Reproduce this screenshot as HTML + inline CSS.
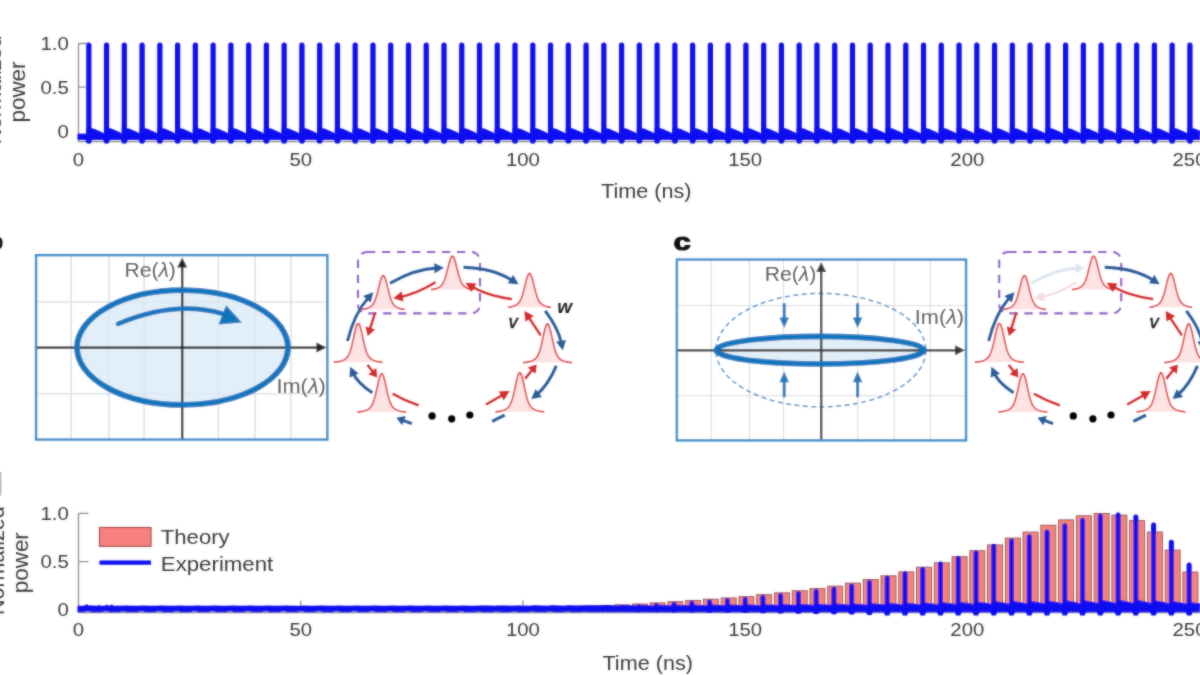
<!DOCTYPE html>
<html><head><meta charset="utf-8"><style>
html,body{margin:0;padding:0;background:#fff;width:1200px;height:675px;overflow:hidden}
svg{display:block;font-family:"Liberation Sans", sans-serif}
</style></head><body>
<svg width="1200" height="675" viewBox="0 0 1200 675">
<defs><filter id="soft" x="-1%" y="-1%" width="102%" height="102%"><feGaussianBlur in="SourceGraphic" stdDeviation="1" result="bl"/><feComposite in="SourceGraphic" in2="bl" operator="arithmetic" k1="0" k2="0.5" k3="0.5" k4="0"/></filter></defs>
<rect width="1200" height="675" fill="#fff"/>
<g filter="url(#soft)">
<g id="top">
<path d="M78.5 43.5V141.5H1200" fill="none" stroke="#8e8e8e" stroke-width="1.3"/>
<path d="M78.5 43.5h10M78.5 87.2h10" stroke="#8e8e8e" stroke-width="1.3"/>
<path d="M300.7 141.5v-12" stroke="#a0a0a0" stroke-width="1.6"/>
<path d="M522.9 141.5v-12" stroke="#a0a0a0" stroke-width="1.6"/>
<path d="M745.1 141.5v-12" stroke="#a0a0a0" stroke-width="1.6"/>
<path d="M967.3 141.5v-12" stroke="#a0a0a0" stroke-width="1.6"/>
<path d="M1189.5 141.5v-12" stroke="#a0a0a0" stroke-width="1.6"/>
<text transform="translate(68.8 50) scale(1.13 1)" font-size="18" text-anchor="end" fill="#3a3a3a">1.0</text>
<text transform="translate(68.8 93.7) scale(1.13 1)" font-size="18" text-anchor="end" fill="#3a3a3a">0.5</text>
<text transform="translate(68.8 137.5) scale(1.13 1)" font-size="18" text-anchor="end" fill="#3a3a3a">0</text>
<text transform="translate(78.5 165.5) scale(1.13 1)" font-size="18" text-anchor="middle" fill="#3a3a3a">0</text>
<text transform="translate(300.7 165.5) scale(1.13 1)" font-size="18" text-anchor="middle" fill="#3a3a3a">50</text>
<text transform="translate(522.9 165.5) scale(1.13 1)" font-size="18" text-anchor="middle" fill="#3a3a3a">100</text>
<text transform="translate(745.1 165.5) scale(1.13 1)" font-size="18" text-anchor="middle" fill="#3a3a3a">150</text>
<text transform="translate(967.3 165.5) scale(1.13 1)" font-size="18" text-anchor="middle" fill="#3a3a3a">200</text>
<text transform="translate(1189.5 165.5) scale(1.13 1)" font-size="18" text-anchor="middle" fill="#3a3a3a">250</text>
<text x="646.3" y="198" font-size="21" text-anchor="middle" fill="#3a3a3a" textLength="90.5" lengthAdjust="spacingAndGlyphs" >Time (ns)</text>
<text transform="translate(25.2 92) rotate(-90)" font-size="21.5" text-anchor="middle" fill="#3a3a3a" textLength="61" lengthAdjust="spacingAndGlyphs">power</text>
<text transform="translate(1 90) rotate(-90)" font-size="21.5" text-anchor="middle" fill="#3a3a3a">Normalized</text>
<path d="M77.5 133.5 L86.2 133.8 L86.2 128.5 L91.8 128.2 L94.8 129 L97.3 130.3 L99.8 131.3 L102.3 132.6 L104 133.5 L103.96 133.8 L103.96 128.5 L109.56 128.2 L112.56 129 L115.06 130.3 L117.56 131.3 L120.06 132.6 L121.76 133.5 L121.72 133.8 L121.72 128.5 L127.32 128.2 L130.32 129 L132.82 130.3 L135.32 131.3 L137.82 132.6 L139.52 133.5 L139.48 133.8 L139.48 128.5 L145.08 128.2 L148.08 129 L150.58 130.3 L153.08 131.3 L155.58 132.6 L157.28 133.5 L157.24 133.8 L157.24 128.5 L162.84 128.2 L165.84 129 L168.34 130.3 L170.84 131.3 L173.34 132.6 L175.04 133.5 L175 133.8 L175 128.5 L180.6 128.2 L183.6 129 L186.1 130.3 L188.6 131.3 L191.1 132.6 L192.8 133.5 L192.76 133.8 L192.76 128.5 L198.36 128.2 L201.36 129 L203.86 130.3 L206.36 131.3 L208.86 132.6 L210.56 133.5 L210.52 133.8 L210.52 128.5 L216.12 128.2 L219.12 129 L221.62 130.3 L224.12 131.3 L226.62 132.6 L228.32 133.5 L228.28 133.8 L228.28 128.5 L233.88 128.2 L236.88 129 L239.38 130.3 L241.88 131.3 L244.38 132.6 L246.08 133.5 L246.04 133.8 L246.04 128.5 L251.64 128.2 L254.64 129 L257.14 130.3 L259.64 131.3 L262.14 132.6 L263.84 133.5 L263.8 133.8 L263.8 128.5 L269.4 128.2 L272.4 129 L274.9 130.3 L277.4 131.3 L279.9 132.6 L281.6 133.5 L281.56 133.8 L281.56 128.5 L287.16 128.2 L290.16 129 L292.66 130.3 L295.16 131.3 L297.66 132.6 L299.36 133.5 L299.32 133.8 L299.32 128.5 L304.92 128.2 L307.92 129 L310.42 130.3 L312.92 131.3 L315.42 132.6 L317.12 133.5 L317.08 133.8 L317.08 128.5 L322.68 128.2 L325.68 129 L328.18 130.3 L330.68 131.3 L333.18 132.6 L334.88 133.5 L334.84 133.8 L334.84 128.5 L340.44 128.2 L343.44 129 L345.94 130.3 L348.44 131.3 L350.94 132.6 L352.64 133.5 L352.6 133.8 L352.6 128.5 L358.2 128.2 L361.2 129 L363.7 130.3 L366.2 131.3 L368.7 132.6 L370.4 133.5 L370.36 133.8 L370.36 128.5 L375.96 128.2 L378.96 129 L381.46 130.3 L383.96 131.3 L386.46 132.6 L388.16 133.5 L388.12 133.8 L388.12 128.5 L393.72 128.2 L396.72 129 L399.22 130.3 L401.72 131.3 L404.22 132.6 L405.92 133.5 L405.88 133.8 L405.88 128.5 L411.48 128.2 L414.48 129 L416.98 130.3 L419.48 131.3 L421.98 132.6 L423.68 133.5 L423.64 133.8 L423.64 128.5 L429.24 128.2 L432.24 129 L434.74 130.3 L437.24 131.3 L439.74 132.6 L441.44 133.5 L441.4 133.8 L441.4 128.5 L447 128.2 L450 129 L452.5 130.3 L455 131.3 L457.5 132.6 L459.2 133.5 L459.16 133.8 L459.16 128.5 L464.76 128.2 L467.76 129 L470.26 130.3 L472.76 131.3 L475.26 132.6 L476.96 133.5 L476.92 133.8 L476.92 128.5 L482.52 128.2 L485.52 129 L488.02 130.3 L490.52 131.3 L493.02 132.6 L494.72 133.5 L494.68 133.8 L494.68 128.5 L500.28 128.2 L503.28 129 L505.78 130.3 L508.28 131.3 L510.78 132.6 L512.48 133.5 L512.44 133.8 L512.44 128.5 L518.04 128.2 L521.04 129 L523.54 130.3 L526.04 131.3 L528.54 132.6 L530.24 133.5 L530.2 133.8 L530.2 128.5 L535.8 128.2 L538.8 129 L541.3 130.3 L543.8 131.3 L546.3 132.6 L548 133.5 L547.96 133.8 L547.96 128.5 L553.56 128.2 L556.56 129 L559.06 130.3 L561.56 131.3 L564.06 132.6 L565.76 133.5 L565.72 133.8 L565.72 128.5 L571.32 128.2 L574.32 129 L576.82 130.3 L579.32 131.3 L581.82 132.6 L583.52 133.5 L583.48 133.8 L583.48 128.5 L589.08 128.2 L592.08 129 L594.58 130.3 L597.08 131.3 L599.58 132.6 L601.28 133.5 L601.24 133.8 L601.24 128.5 L606.84 128.2 L609.84 129 L612.34 130.3 L614.84 131.3 L617.34 132.6 L619.04 133.5 L619 133.8 L619 128.5 L624.6 128.2 L627.6 129 L630.1 130.3 L632.6 131.3 L635.1 132.6 L636.8 133.5 L636.76 133.8 L636.76 128.5 L642.36 128.2 L645.36 129 L647.86 130.3 L650.36 131.3 L652.86 132.6 L654.56 133.5 L654.52 133.8 L654.52 128.5 L660.12 128.2 L663.12 129 L665.62 130.3 L668.12 131.3 L670.62 132.6 L672.32 133.5 L672.28 133.8 L672.28 128.5 L677.88 128.2 L680.88 129 L683.38 130.3 L685.88 131.3 L688.38 132.6 L690.08 133.5 L690.04 133.8 L690.04 128.5 L695.64 128.2 L698.64 129 L701.14 130.3 L703.64 131.3 L706.14 132.6 L707.84 133.5 L707.8 133.8 L707.8 128.5 L713.4 128.2 L716.4 129 L718.9 130.3 L721.4 131.3 L723.9 132.6 L725.6 133.5 L725.56 133.8 L725.56 128.5 L731.16 128.2 L734.16 129 L736.66 130.3 L739.16 131.3 L741.66 132.6 L743.36 133.5 L743.32 133.8 L743.32 128.5 L748.92 128.2 L751.92 129 L754.42 130.3 L756.92 131.3 L759.42 132.6 L761.12 133.5 L761.08 133.8 L761.08 128.5 L766.68 128.2 L769.68 129 L772.18 130.3 L774.68 131.3 L777.18 132.6 L778.88 133.5 L778.84 133.8 L778.84 128.5 L784.44 128.2 L787.44 129 L789.94 130.3 L792.44 131.3 L794.94 132.6 L796.64 133.5 L796.6 133.8 L796.6 128.5 L802.2 128.2 L805.2 129 L807.7 130.3 L810.2 131.3 L812.7 132.6 L814.4 133.5 L814.36 133.8 L814.36 128.5 L819.96 128.2 L822.96 129 L825.46 130.3 L827.96 131.3 L830.46 132.6 L832.16 133.5 L832.12 133.8 L832.12 128.5 L837.72 128.2 L840.72 129 L843.22 130.3 L845.72 131.3 L848.22 132.6 L849.92 133.5 L849.88 133.8 L849.88 128.5 L855.48 128.2 L858.48 129 L860.98 130.3 L863.48 131.3 L865.98 132.6 L867.68 133.5 L867.64 133.8 L867.64 128.5 L873.24 128.2 L876.24 129 L878.74 130.3 L881.24 131.3 L883.74 132.6 L885.44 133.5 L885.4 133.8 L885.4 128.5 L891 128.2 L894 129 L896.5 130.3 L899 131.3 L901.5 132.6 L903.2 133.5 L903.16 133.8 L903.16 128.5 L908.76 128.2 L911.76 129 L914.26 130.3 L916.76 131.3 L919.26 132.6 L920.96 133.5 L920.92 133.8 L920.92 128.5 L926.52 128.2 L929.52 129 L932.02 130.3 L934.52 131.3 L937.02 132.6 L938.72 133.5 L938.68 133.8 L938.68 128.5 L944.28 128.2 L947.28 129 L949.78 130.3 L952.28 131.3 L954.78 132.6 L956.48 133.5 L956.44 133.8 L956.44 128.5 L962.04 128.2 L965.04 129 L967.54 130.3 L970.04 131.3 L972.54 132.6 L974.24 133.5 L974.2 133.8 L974.2 128.5 L979.8 128.2 L982.8 129 L985.3 130.3 L987.8 131.3 L990.3 132.6 L992 133.5 L991.96 133.8 L991.96 128.5 L997.56 128.2 L1000.56 129 L1003.06 130.3 L1005.56 131.3 L1008.06 132.6 L1009.76 133.5 L1009.72 133.8 L1009.72 128.5 L1015.32 128.2 L1018.32 129 L1020.82 130.3 L1023.32 131.3 L1025.82 132.6 L1027.52 133.5 L1027.48 133.8 L1027.48 128.5 L1033.08 128.2 L1036.08 129 L1038.58 130.3 L1041.08 131.3 L1043.58 132.6 L1045.28 133.5 L1045.24 133.8 L1045.24 128.5 L1050.84 128.2 L1053.84 129 L1056.34 130.3 L1058.84 131.3 L1061.34 132.6 L1063.04 133.5 L1063 133.8 L1063 128.5 L1068.6 128.2 L1071.6 129 L1074.1 130.3 L1076.6 131.3 L1079.1 132.6 L1080.8 133.5 L1080.76 133.8 L1080.76 128.5 L1086.36 128.2 L1089.36 129 L1091.86 130.3 L1094.36 131.3 L1096.86 132.6 L1098.56 133.5 L1098.52 133.8 L1098.52 128.5 L1104.12 128.2 L1107.12 129 L1109.62 130.3 L1112.12 131.3 L1114.62 132.6 L1116.32 133.5 L1116.28 133.8 L1116.28 128.5 L1121.88 128.2 L1124.88 129 L1127.38 130.3 L1129.88 131.3 L1132.38 132.6 L1134.08 133.5 L1134.04 133.8 L1134.04 128.5 L1139.64 128.2 L1142.64 129 L1145.14 130.3 L1147.64 131.3 L1150.14 132.6 L1151.84 133.5 L1151.8 133.8 L1151.8 128.5 L1157.4 128.2 L1160.4 129 L1162.9 130.3 L1165.4 131.3 L1167.9 132.6 L1169.6 133.5 L1169.56 133.8 L1169.56 128.5 L1175.16 128.2 L1178.16 129 L1180.66 130.3 L1183.16 131.3 L1185.66 132.6 L1187.36 133.5 L1187.32 133.8 L1187.32 128.5 L1192.92 128.2 L1195.92 129 L1198.42 130.3 L1200.92 131.3 L1203.42 132.6 L1205.12 133.5 L1200 133.5 L1200 140 L1193.42 140 L1191.92 143.6 L1187.92 143.6 L1186.42 140 L1175.66 140 L1174.16 143.6 L1170.16 143.6 L1168.66 140 L1157.9 140 L1156.4 143.6 L1152.4 143.6 L1150.9 140 L1140.14 140 L1138.64 143.6 L1134.64 143.6 L1133.14 140 L1122.38 140 L1120.88 143.6 L1116.88 143.6 L1115.38 140 L1104.62 140 L1103.12 143.6 L1099.12 143.6 L1097.62 140 L1086.86 140 L1085.36 143.6 L1081.36 143.6 L1079.86 140 L1069.1 140 L1067.6 143.6 L1063.6 143.6 L1062.1 140 L1051.34 140 L1049.84 143.6 L1045.84 143.6 L1044.34 140 L1033.58 140 L1032.08 143.6 L1028.08 143.6 L1026.58 140 L1015.82 140 L1014.32 143.6 L1010.32 143.6 L1008.82 140 L998.06 140 L996.56 143.6 L992.56 143.6 L991.06 140 L980.3 140 L978.8 143.6 L974.8 143.6 L973.3 140 L962.54 140 L961.04 143.6 L957.04 143.6 L955.54 140 L944.78 140 L943.28 143.6 L939.28 143.6 L937.78 140 L927.02 140 L925.52 143.6 L921.52 143.6 L920.02 140 L909.26 140 L907.76 143.6 L903.76 143.6 L902.26 140 L891.5 140 L890 143.6 L886 143.6 L884.5 140 L873.74 140 L872.24 143.6 L868.24 143.6 L866.74 140 L855.98 140 L854.48 143.6 L850.48 143.6 L848.98 140 L838.22 140 L836.72 143.6 L832.72 143.6 L831.22 140 L820.46 140 L818.96 143.6 L814.96 143.6 L813.46 140 L802.7 140 L801.2 143.6 L797.2 143.6 L795.7 140 L784.94 140 L783.44 143.6 L779.44 143.6 L777.94 140 L767.18 140 L765.68 143.6 L761.68 143.6 L760.18 140 L749.42 140 L747.92 143.6 L743.92 143.6 L742.42 140 L731.66 140 L730.16 143.6 L726.16 143.6 L724.66 140 L713.9 140 L712.4 143.6 L708.4 143.6 L706.9 140 L696.14 140 L694.64 143.6 L690.64 143.6 L689.14 140 L678.38 140 L676.88 143.6 L672.88 143.6 L671.38 140 L660.62 140 L659.12 143.6 L655.12 143.6 L653.62 140 L642.86 140 L641.36 143.6 L637.36 143.6 L635.86 140 L625.1 140 L623.6 143.6 L619.6 143.6 L618.1 140 L607.34 140 L605.84 143.6 L601.84 143.6 L600.34 140 L589.58 140 L588.08 143.6 L584.08 143.6 L582.58 140 L571.82 140 L570.32 143.6 L566.32 143.6 L564.82 140 L554.06 140 L552.56 143.6 L548.56 143.6 L547.06 140 L536.3 140 L534.8 143.6 L530.8 143.6 L529.3 140 L518.54 140 L517.04 143.6 L513.04 143.6 L511.54 140 L500.78 140 L499.28 143.6 L495.28 143.6 L493.78 140 L483.02 140 L481.52 143.6 L477.52 143.6 L476.02 140 L465.26 140 L463.76 143.6 L459.76 143.6 L458.26 140 L447.5 140 L446 143.6 L442 143.6 L440.5 140 L429.74 140 L428.24 143.6 L424.24 143.6 L422.74 140 L411.98 140 L410.48 143.6 L406.48 143.6 L404.98 140 L394.22 140 L392.72 143.6 L388.72 143.6 L387.22 140 L376.46 140 L374.96 143.6 L370.96 143.6 L369.46 140 L358.7 140 L357.2 143.6 L353.2 143.6 L351.7 140 L340.94 140 L339.44 143.6 L335.44 143.6 L333.94 140 L323.18 140 L321.68 143.6 L317.68 143.6 L316.18 140 L305.42 140 L303.92 143.6 L299.92 143.6 L298.42 140 L287.66 140 L286.16 143.6 L282.16 143.6 L280.66 140 L269.9 140 L268.4 143.6 L264.4 143.6 L262.9 140 L252.14 140 L250.64 143.6 L246.64 143.6 L245.14 140 L234.38 140 L232.88 143.6 L228.88 143.6 L227.38 140 L216.62 140 L215.12 143.6 L211.12 143.6 L209.62 140 L198.86 140 L197.36 143.6 L193.36 143.6 L191.86 140 L181.1 140 L179.6 143.6 L175.6 143.6 L174.1 140 L163.34 140 L161.84 143.6 L157.84 143.6 L156.34 140 L145.58 140 L144.08 143.6 L140.08 143.6 L138.58 140 L127.82 140 L126.32 143.6 L122.32 143.6 L120.82 140 L110.06 140 L108.56 143.6 L104.56 143.6 L103.06 140 L92.3 140 L90.8 143.6 L86.8 143.6 L85.3 140 L77.5 140Z" fill="#0a0af2"/>
<path d="M88.8 45.2V136M106.56 45.2V136M124.32 45.2V136M142.08 45.2V136M159.84 45.2V136M177.6 45.2V136M195.36 45.2V136M213.12 45.2V136M230.88 45.2V136M248.64 45.2V136M266.4 45.2V136M284.16 45.2V136M301.92 45.2V136M319.68 45.2V136M337.44 45.2V136M355.2 45.2V136M372.96 45.2V136M390.72 45.2V136M408.48 45.2V136M426.24 45.2V136M444 45.2V136M461.76 45.2V136M479.52 45.2V136M497.28 45.2V136M515.04 45.2V136M532.8 45.2V136M550.56 45.2V136M568.32 45.2V136M586.08 45.2V136M603.84 45.2V136M621.6 45.2V136M639.36 45.2V136M657.12 45.2V136M674.88 45.2V136M692.64 45.2V136M710.4 45.2V136M728.16 45.2V136M745.92 45.2V136M763.68 45.2V136M781.44 45.2V136M799.2 45.2V136M816.96 45.2V136M834.72 45.2V136M852.48 45.2V136M870.24 45.2V136M888 45.2V136M905.76 45.2V136M923.52 45.2V136M941.28 45.2V136M959.04 45.2V136M976.8 45.2V136M994.56 45.2V136M1012.32 45.2V136M1030.08 45.2V136M1047.84 45.2V136M1065.6 45.2V136M1083.36 45.2V136M1101.12 45.2V136M1118.88 45.2V136M1136.64 45.2V136M1154.4 45.2V136M1172.16 45.2V136M1189.92 45.2V136" stroke="#0a0af2" stroke-width="5.2" stroke-linecap="round" fill="none"/>
</g>
<g id="bottom">
<path d="M78.5 513.4V612.5H1200" fill="none" stroke="#8e8e8e" stroke-width="1.3"/>
<path d="M78.5 513.4h10M78.5 561.7h10" stroke="#8e8e8e" stroke-width="1.3"/>
<path d="M300.7 612.5v-12" stroke="#a0a0a0" stroke-width="1.6"/>
<path d="M522.9 612.5v-12" stroke="#a0a0a0" stroke-width="1.6"/>
<path d="M745.1 612.5v-12" stroke="#a0a0a0" stroke-width="1.6"/>
<path d="M967.3 612.5v-12" stroke="#a0a0a0" stroke-width="1.6"/>
<path d="M1189.5 612.5v-12" stroke="#a0a0a0" stroke-width="1.6"/>
<text transform="translate(68.8 519.9) scale(1.13 1)" font-size="18" text-anchor="end" fill="#3a3a3a">1.0</text>
<text transform="translate(68.8 568.2) scale(1.13 1)" font-size="18" text-anchor="end" fill="#3a3a3a">0.5</text>
<text transform="translate(68.8 616.3) scale(1.13 1)" font-size="18" text-anchor="end" fill="#3a3a3a">0</text>
<text transform="translate(78.5 636) scale(1.13 1)" font-size="18" text-anchor="middle" fill="#3a3a3a">0</text>
<text transform="translate(300.7 636) scale(1.13 1)" font-size="18" text-anchor="middle" fill="#3a3a3a">50</text>
<text transform="translate(522.9 636) scale(1.13 1)" font-size="18" text-anchor="middle" fill="#3a3a3a">100</text>
<text transform="translate(745.1 636) scale(1.13 1)" font-size="18" text-anchor="middle" fill="#3a3a3a">150</text>
<text transform="translate(967.3 636) scale(1.13 1)" font-size="18" text-anchor="middle" fill="#3a3a3a">200</text>
<text transform="translate(1189.5 636) scale(1.13 1)" font-size="18" text-anchor="middle" fill="#3a3a3a">250</text>
<text x="647.7" y="669.5" font-size="21" text-anchor="middle" fill="#3a3a3a" textLength="90.5" lengthAdjust="spacingAndGlyphs" >Time (ns)</text>
<text transform="translate(27.5 562.7) rotate(-90)" font-size="21.5" text-anchor="middle" fill="#3a3a3a" textLength="61" lengthAdjust="spacingAndGlyphs">power</text>
<text transform="translate(4 560.7) rotate(-90)" font-size="21.5" text-anchor="middle" fill="#3a3a3a">Normalized</text>
<rect x="0" y="472" width="1.3" height="23.5" fill="#a8a8a8"/>
<g fill="#f3827c" stroke="#8c5656" stroke-width="0.9"><rect x="383.72" y="609.11" width="15" height="1.69"/><rect x="401.48" y="609" width="15" height="1.8"/><rect x="419.24" y="608.86" width="15" height="1.94"/><rect x="437" y="608.71" width="15" height="2.09"/><rect x="454.76" y="608.53" width="15" height="2.27"/><rect x="472.52" y="608.32" width="15" height="2.48"/><rect x="490.28" y="608.08" width="15" height="2.72"/><rect x="508.04" y="607.8" width="15" height="3"/><rect x="525.8" y="607.47" width="15" height="3.33"/><rect x="543.56" y="607.09" width="15" height="3.71"/><rect x="561.32" y="606.65" width="15" height="4.15"/><rect x="579.08" y="606.13" width="15" height="4.67"/><rect x="596.84" y="605.53" width="15" height="5.27"/><rect x="614.6" y="604.83" width="15" height="5.97"/><rect x="632.36" y="604.01" width="15" height="6.79"/><rect x="650.12" y="602.91" width="15" height="7.89"/><rect x="667.88" y="601.67" width="15" height="9.13"/><rect x="685.64" y="600.44" width="15" height="10.36"/><rect x="703.4" y="599.2" width="15" height="11.6"/><rect x="721.16" y="597.95" width="15" height="12.85"/><rect x="738.92" y="596.64" width="15" height="14.16"/><rect x="756.68" y="594.63" width="15" height="16.17"/><rect x="774.44" y="592.87" width="15" height="17.93"/><rect x="792.2" y="590.75" width="15" height="20.05"/><rect x="809.96" y="588.61" width="15" height="22.19"/><rect x="827.72" y="586.17" width="15" height="24.63"/><rect x="845.48" y="583.13" width="15" height="27.67"/><rect x="863.24" y="579.47" width="15" height="31.33"/><rect x="881" y="575.8" width="15" height="35"/><rect x="898.76" y="571.89" width="15" height="38.91"/><rect x="916.52" y="567.2" width="15" height="43.6"/><rect x="934.28" y="562.84" width="15" height="47.96"/><rect x="952.04" y="556.69" width="15" height="54.11"/><rect x="969.8" y="550.73" width="15" height="60.07"/><rect x="987.56" y="544.89" width="15" height="65.91"/><rect x="1005.32" y="538.1" width="15" height="72.7"/><rect x="1023.08" y="532.07" width="15" height="78.73"/><rect x="1040.84" y="525.23" width="15" height="85.57"/><rect x="1058.6" y="519.9" width="15" height="90.9"/><rect x="1076.36" y="515.76" width="15" height="95.04"/><rect x="1094.12" y="513.48" width="15" height="97.32"/><rect x="1111.88" y="515.13" width="15" height="95.67"/><rect x="1129.64" y="520.56" width="15" height="90.24"/><rect x="1147.4" y="532" width="15" height="78.8"/><rect x="1165.16" y="550.09" width="15" height="60.71"/><rect x="1182.92" y="572.01" width="15" height="38.79"/></g>
<path d="M77.5 605.8 L85.6 605.8 L90.5 605.6 L96 605.7 L103.2 605.8 L103.36 605.8 L108.26 605.6 L113.76 605.7 L120.96 605.8 L121.12 605.8 L126.02 605.6 L131.52 605.7 L138.72 605.8 L138.88 605.8 L143.78 605.6 L149.28 605.7 L156.48 605.8 L156.64 605.8 L161.54 605.6 L167.04 605.7 L174.24 605.8 L174.4 605.8 L179.3 605.6 L184.8 605.7 L192 605.8 L192.16 605.8 L197.06 605.6 L202.56 605.7 L209.76 605.8 L209.92 605.8 L214.82 605.6 L220.32 605.7 L227.52 605.8 L227.68 605.8 L232.58 605.6 L238.08 605.7 L245.28 605.8 L245.44 605.8 L250.34 605.6 L255.84 605.7 L263.04 605.8 L263.2 605.8 L268.1 605.6 L273.6 605.7 L280.8 605.8 L280.96 605.8 L285.86 605.6 L291.36 605.7 L298.56 605.8 L298.72 605.8 L303.62 605.6 L309.12 605.7 L316.32 605.8 L316.48 605.8 L321.38 605.6 L326.88 605.7 L334.08 605.8 L334.24 605.8 L339.14 605.6 L344.64 605.7 L351.84 605.8 L352 605.8 L356.9 605.6 L362.4 605.7 L369.6 605.8 L369.76 605.8 L374.66 605.6 L380.16 605.7 L387.36 605.8 L387.52 605.8 L392.42 605.6 L397.92 605.7 L405.12 605.8 L405.28 605.8 L410.18 605.6 L415.68 605.7 L422.88 605.8 L423.04 605.8 L427.94 605.6 L433.44 605.7 L440.64 605.8 L440.8 605.8 L445.7 605.6 L451.2 605.7 L458.4 605.8 L458.56 605.78 L463.46 605.56 L468.96 605.66 L476.16 605.78 L476.32 605.75 L481.22 605.5 L486.72 605.62 L493.92 605.75 L494.08 605.72 L498.98 605.45 L504.48 605.58 L511.68 605.73 L511.84 605.69 L516.74 605.4 L522.24 605.54 L529.44 605.7 L529.6 605.66 L534.5 605.35 L540 605.5 L547.2 605.67 L547.36 605.63 L552.26 605.29 L557.76 605.45 L564.96 605.65 L565.12 605.6 L570.02 605.23 L575.52 605.41 L582.72 605.62 L582.88 605.56 L587.78 605.17 L593.28 605.36 L600.48 605.58 L600.64 605.52 L605.54 605.1 L611.04 605.3 L618.24 605.55 L618.4 605.48 L623.3 605.02 L628.8 605.24 L636 605.51 L636.16 605.44 L641.06 604.94 L646.56 605.17 L653.76 605.47 L653.92 605.38 L658.82 604.83 L664.32 605.09 L671.52 605.42 L671.68 605.31 L676.58 604.72 L682.08 604.99 L689.28 605.36 L689.44 605.26 L694.34 604.61 L699.84 604.91 L707.04 605.3 L707.2 605.2 L712.1 604.51 L717.6 604.82 L724.8 605.25 L724.96 605.14 L729.86 604.41 L735.36 604.74 L742.56 605.2 L742.72 605.09 L747.62 604.31 L753.12 604.67 L760.32 605.15 L760.48 605.01 L765.38 604.16 L770.88 604.55 L778.08 605.08 L778.24 604.94 L783.14 604.03 L788.64 604.45 L795.84 605.02 L796 604.86 L800.9 603.89 L806.4 604.33 L813.6 604.94 L813.76 604.78 L818.66 603.75 L824.16 604.22 L831.36 604.87 L831.52 604.7 L836.42 603.59 L841.92 604.09 L849.12 604.8 L849.28 604.59 L854.18 603.41 L859.68 603.95 L866.88 604.7 L867.04 604.47 L871.94 603.19 L877.44 603.77 L884.64 604.6 L884.8 604.34 L889.7 602.95 L895.2 603.58 L902.4 604.47 L902.56 604.2 L907.46 602.7 L912.96 603.38 L920.16 604.35 L920.32 604.08 L925.22 602.48 L930.72 603.2 L937.92 604.24 L938.08 603.93 L942.98 602.2 L948.48 602.98 L955.68 604.1 L955.84 603.78 L960.74 601.92 L966.24 602.76 L973.44 603.96 L973.6 603.63 L978.5 601.66 L984 602.55 L991.2 603.83 L991.36 603.46 L996.26 601.35 L1001.76 602.3 L1008.96 603.67 L1009.12 603.33 L1014.02 601.1 L1019.52 602.1 L1026.72 603.55 L1026.88 603.22 L1031.78 600.92 L1037.28 601.95 L1044.48 603.46 L1044.64 603.11 L1049.54 600.71 L1055.04 601.79 L1062.24 603.36 L1062.4 602.96 L1067.3 600.44 L1072.8 601.58 L1080 603.22 L1080.16 602.84 L1085.06 600.22 L1090.56 601.4 L1097.76 603.11 L1097.92 602.75 L1102.82 600.05 L1108.32 601.26 L1115.52 603.03 L1115.68 602.72 L1120.58 600 L1126.08 601.22 L1133.28 603 L1133.44 602.76 L1138.34 600.08 L1143.84 601.28 L1151.04 603.04 L1151.2 602.95 L1156.1 600.42 L1161.6 601.55 L1168.8 603.21 L1168.96 603.36 L1173.86 601.16 L1179.36 602.15 L1186.56 603.58 L1186.72 603.95 L1191.62 602.25 L1197.12 603.02 L1204.32 604.12 L1200 605.8 L1200 612.3 L1192.72 612.3 L1191.12 615.4 L1187.12 615.4 L1185.52 612.3 L1174.96 612.3 L1173.36 615.4 L1169.36 615.4 L1167.76 612.3 L1157.2 612.3 L1155.6 615.4 L1151.6 615.4 L1150 612.3 L1139.44 612.3 L1137.84 615.4 L1133.84 615.4 L1132.24 612.3 L1121.68 612.3 L1120.08 615.4 L1116.08 615.4 L1114.48 612.3 L1103.92 612.3 L1102.32 615.4 L1098.32 615.4 L1096.72 612.3 L1086.16 612.3 L1084.56 615.4 L1080.56 615.4 L1078.96 612.3 L1068.4 612.3 L1066.8 615.4 L1062.8 615.4 L1061.2 612.3 L1050.64 612.3 L1049.04 615.4 L1045.04 615.4 L1043.44 612.3 L1032.88 612.3 L1031.28 615.4 L1027.28 615.4 L1025.68 612.3 L1015.12 612.3 L1013.52 615.4 L1009.52 615.4 L1007.92 612.3 L997.36 612.3 L995.76 615.4 L991.76 615.4 L990.16 612.3 L979.6 612.3 L978 615.4 L974 615.4 L972.4 612.3 L961.84 612.3 L960.24 615.4 L956.24 615.4 L954.64 612.3 L944.08 612.3 L942.48 615.4 L938.48 615.4 L936.88 612.3 L926.32 612.3 L924.72 615.4 L920.72 615.4 L919.12 612.3 L908.56 612.3 L906.96 615.4 L902.96 615.4 L901.36 612.3 L890.8 612.3 L889.2 615.4 L885.2 615.4 L883.6 612.3 L873.04 612.3 L871.44 615.02 L867.44 615.02 L865.84 612.3 L855.28 612.3 L853.68 614.59 L849.68 614.59 L848.08 612.3 L837.52 612.3 L835.92 614.23 L831.92 614.23 L830.32 612.3 L819.76 612.3 L818.16 613.95 L814.16 613.95 L812.56 612.3 L802 612.3 L800.4 613.7 L796.4 613.7 L794.8 612.3 L784.24 612.3 L782.64 613.45 L778.64 613.45 L777.04 612.3 L766.48 612.3 L764.88 613.24 L760.88 613.24 L759.28 612.3 L748.72 612.3 L747.12 613 L743.12 613 L741.52 612.3 L730.96 612.3 L729.36 612.85 L725.36 612.85 L723.76 612.3 L713.2 612.3 L711.6 612.71 L707.6 612.71 L706 612.3 L695.44 612.3 L693.84 612.56 L689.84 612.56 L688.24 612.3 L677.68 612.3 L676.08 612.41 L672.08 612.41 L670.48 612.3 L659.92 612.3 L658.32 612.27 L654.32 612.27 L652.72 612.3 L642.16 612.3 L640.56 612.14 L636.56 612.14 L634.96 612.3 L624.4 612.3 L622.8 612.04 L618.8 612.04 L617.2 612.3 L606.64 612.3 L605.04 611.96 L601.04 611.96 L599.44 612.3 L588.88 612.3 L587.28 611.89 L583.28 611.89 L581.68 612.3 L571.12 612.3 L569.52 611.83 L565.52 611.83 L563.92 612.3 L553.36 612.3 L551.76 611.78 L547.76 611.78 L546.16 612.3 L535.6 612.3 L534 611.74 L530 611.74 L528.4 612.3 L517.84 612.3 L516.24 611.7 L512.24 611.7 L510.64 612.3 L500.08 612.3 L498.48 611.66 L494.48 611.66 L492.88 612.3 L482.32 612.3 L480.72 611.64 L476.72 611.64 L475.12 612.3 L464.56 612.3 L462.96 611.61 L458.96 611.61 L457.36 612.3 L446.8 612.3 L445.2 611.6 L441.2 611.6 L439.6 612.3 L429.04 612.3 L427.44 611.6 L423.44 611.6 L421.84 612.3 L411.28 612.3 L409.68 611.6 L405.68 611.6 L404.08 612.3 L393.52 612.3 L391.92 611.6 L387.92 611.6 L386.32 612.3 L375.76 612.3 L374.16 611.6 L370.16 611.6 L368.56 612.3 L358 612.3 L356.4 611.6 L352.4 611.6 L350.8 612.3 L340.24 612.3 L338.64 611.6 L334.64 611.6 L333.04 612.3 L322.48 612.3 L320.88 611.6 L316.88 611.6 L315.28 612.3 L304.72 612.3 L303.12 611.6 L299.12 611.6 L297.52 612.3 L286.96 612.3 L285.36 611.6 L281.36 611.6 L279.76 612.3 L269.2 612.3 L267.6 611.6 L263.6 611.6 L262 612.3 L251.44 612.3 L249.84 611.6 L245.84 611.6 L244.24 612.3 L233.68 612.3 L232.08 611.6 L228.08 611.6 L226.48 612.3 L215.92 612.3 L214.32 611.6 L210.32 611.6 L208.72 612.3 L198.16 612.3 L196.56 611.6 L192.56 611.6 L190.96 612.3 L180.4 612.3 L178.8 611.6 L174.8 611.6 L173.2 612.3 L162.64 612.3 L161.04 611.6 L157.04 611.6 L155.44 612.3 L144.88 612.3 L143.28 611.6 L139.28 611.6 L137.68 612.3 L127.12 612.3 L125.52 611.6 L121.52 611.6 L119.92 612.3 L109.36 612.3 L107.76 611.6 L103.76 611.6 L102.16 612.3 L91.6 612.3 L90 611.6 L86 611.6 L84.4 612.3 L77.5 612.3Z" fill="#0a0af2"/>
<path d="M78 607 L79.3 606.94 L80.6 608.53 L81.9 607.62 L83.2 608.84 L84.5 608.95 L85.8 606.04 L87.1 605.77 L88.4 610.05 L89.7 607.05 L91 606.92 L92.3 610.88 L93.6 608.15 L94.9 610.05 L96.2 608.18 L97.5 609.02 L98.8 606.48 L100.1 609 L101.4 610.21 L102.7 608.42 L104 609.55 L105.3 609.19 L106.6 606.03 L107.9 609.64 L109.2 608.77 L110.5 607.27 L111.8 605.86 L113.1 610.2 L114.4 608.16 L115.7 609.44 L117 610.27 L118.3 609.41 L119.6 610.49 L120.9 607.75 L122.2 609.86 L123.5 608.01 L124.8 610.57 L126.1 609.21 L127.4 607.33 L128.7 607.43 L130 607.62 L131.3 609.42 L132.6 608.15 L133.9 608.6 L135.2 607.82" stroke="#0a0af2" stroke-width="2.6" fill="none" stroke-linejoin="round"/>
<path d="M603.04 608.33V610M620.8 607.64V610M638.56 606.83V610M656.32 605.76V610M674.08 604.52V610M691.84 603.28V610M709.6 602.05V610M727.36 600.79V610M745.12 599.54V610M762.88 597.52V610M780.64 595.78V610M798.4 593.67V610M816.16 591.55V610M833.92 589.14V610M851.68 586.16V610M869.44 582.5V610M887.2 578.29V610M904.96 573.73V610M922.72 569.56V610M940.48 564.07V610M958.24 558.58V610M976 553.08V610M993.76 546.35V610M1011.52 540.88V610M1029.28 536.73V610M1047.04 531.99V610M1064.8 525.74V610M1082.56 520.36V610M1100.32 516.24V610M1118.08 515.01V610M1135.84 516.88V610M1153.6 525.12V610M1171.36 542.19V610M1189.12 565.03V610" stroke="#0a0af2" stroke-width="5" stroke-linecap="round" fill="none"/>
<rect x="99.5" y="527.5" width="51.5" height="18.8" fill="#f88080" stroke="#a24c4c" stroke-width="1.2"/>
<path d="M99.5 562.6H151" stroke="#0a0af2" stroke-width="4.2"/>
<text x="160.8" y="544.3" font-size="21" text-anchor="start" fill="#3a3a3a" textLength="68.8" lengthAdjust="spacingAndGlyphs" >Theory</text>
<text x="160.8" y="570.6" font-size="21" text-anchor="start" fill="#3a3a3a" textLength="112.5" lengthAdjust="spacingAndGlyphs" >Experiment</text>
</g>
<rect x="36.1" y="255.2" width="291.2" height="184.3" fill="#fff"/>
<path d="M71.1 255.2V439.5M108.9 255.2V439.5M144.1 255.2V439.5M218.4 255.2V439.5M255 255.2V439.5M291 255.2V439.5M36.1 302H327.3M36.1 393.6H327.3" stroke="#dcdcdc" stroke-width="1.1" fill="none"/>
<ellipse cx="182.45" cy="347.55" rx="105.5" ry="57.35" fill="#e2eef8"/>
<path d="M71.1 255.2V439.5M108.9 255.2V439.5M144.1 255.2V439.5M218.4 255.2V439.5M255 255.2V439.5M291 255.2V439.5M36.1 302H327.3M36.1 393.6H327.3" stroke="#d4dde6" stroke-width="1" fill="none" opacity="0.6"/>
<path d="M36.1 347.6H318.5 M182.2 439.5V265.5" stroke="#1a1a1a" stroke-width="2.3" fill="none"/>
<path d="M326.5 347.6l-10 -5v10z M182.2 257.5l-5 10h10z" fill="#1a1a1a"/>
<ellipse cx="182.45" cy="347.55" rx="105.5" ry="57.35" fill="none" stroke="#0b74be" stroke-width="5.8"/>
<path d="M118 323.8Q175 300 222 313.5" fill="none" stroke="#0b74be" stroke-width="4.6" stroke-linecap="round"/>
<path d="M241.8 322.4L226.1 305.2L218.5 324.4Z" fill="#0b74be"/>
<rect x="36.1" y="255.2" width="291.2" height="184.3" fill="none" stroke="#3a8dca" stroke-width="2.4"/>
<text x="124.4" y="277.1" font-size="20.5" fill="#444" textLength="51.5" lengthAdjust="spacingAndGlyphs">Re(<tspan font-style="italic">&#955;</tspan>)</text>
<text x="276.4" y="393" font-size="20.5" fill="#444" textLength="49.5" lengthAdjust="spacingAndGlyphs">Im(<tspan font-style="italic">&#955;</tspan>)</text>
<text x="-10" y="249" font-size="22" font-weight="bold" fill="#111">b</text>
<rect x="676.9" y="259.6" width="289.1" height="180.8" fill="#fff"/>
<path d="M711.3 259.6V440.4M749.4 259.6V440.4M783.6 259.6V440.4M857.7 259.6V440.4M894.3 259.6V440.4M930.3 259.6V440.4M676.9 305.5H966M676.9 395.8H966" stroke="#dcdcdc" stroke-width="1.1" fill="none"/>
<ellipse cx="820.9" cy="350.2" rx="104.9" ry="56.7" fill="none" stroke="#4d8fc8" stroke-width="1.5" stroke-dasharray="5 3.4"/>
<ellipse cx="820" cy="350.2" rx="104" ry="13.8" fill="#e2eef8"/>
<path d="M676.9 350.3H957 M821.2 440.4V270" stroke="#333" stroke-width="2.3" fill="none"/>
<path d="M965 350.3l-10 -5v10z M821.2 262l-5 10h10z" fill="#333"/>
<ellipse cx="820" cy="350.2" rx="104" ry="13.8" fill="none" stroke="#0b74be" stroke-width="5.6"/>
<path d="M784.2 303.3V319" stroke="#1c78b8" stroke-width="3"/>
<path d="M784.2 328L779.4 317.5H789Z" fill="#1c78b8"/>
<path d="M784.2 397.3V381.5" stroke="#1c78b8" stroke-width="3"/>
<path d="M784.2 371.6L779.4 382.2H789Z" fill="#1c78b8"/>
<path d="M857.6 303.3V319" stroke="#1c78b8" stroke-width="3"/>
<path d="M857.6 328L852.8 317.5H862.4Z" fill="#1c78b8"/>
<path d="M857.6 397.3V381.5" stroke="#1c78b8" stroke-width="3"/>
<path d="M857.6 371.6L852.8 382.2H862.4Z" fill="#1c78b8"/>
<rect x="676.9" y="259.6" width="289.1" height="180.8" fill="none" stroke="#3a8dca" stroke-width="2.4"/>
<text x="764.7" y="281.1" font-size="20.5" fill="#444" textLength="51.5" lengthAdjust="spacingAndGlyphs">Re(<tspan font-style="italic">&#955;</tspan>)</text>
<text x="914.8" y="323.6" font-size="20.5" fill="#444" textLength="49.3" lengthAdjust="spacingAndGlyphs">Im(<tspan font-style="italic">&#955;</tspan>)</text>
<text transform="translate(673.6 249.8) scale(1.32 1)" font-size="23.5" font-weight="bold" fill="#111" stroke="#111" stroke-width="1.1">c</text>
<g transform="translate(0 0)"><rect x="358" y="252" width="122" height="61.4" rx="9" fill="none" stroke="#9163c8" stroke-width="2.1" stroke-dasharray="8.3 6.7" stroke-dashoffset="0"/><path d="M430.9 289.6 L431.62 289.51 L432.33 289.41 L433.05 289.29 L433.77 289.15 L434.48 289 L435.2 288.82 L435.92 288.62 L436.63 288.39 L437.35 288.13 L438.07 287.83 L438.78 287.48 L439.5 287.07 L440.22 286.58 L440.93 285.97 L441.65 285.22 L442.37 284.3 L443.08 283.15 L443.8 281.74 L444.52 280.04 L445.23 278.03 L445.95 275.71 L446.67 273.11 L447.38 270.3 L448.1 267.39 L448.82 264.51 L449.53 261.83 L450.25 259.51 L450.97 257.72 L451.68 256.59 L452.4 256.2 L453.12 256.59 L453.83 257.72 L454.55 259.51 L455.27 261.83 L455.98 264.51 L456.7 267.39 L457.42 270.3 L458.13 273.11 L458.85 275.71 L459.57 278.03 L460.28 280.04 L461 281.74 L461.72 283.15 L462.43 284.3 L463.15 285.22 L463.87 285.97 L464.58 286.58 L465.3 287.07 L466.02 287.48 L466.73 287.83 L467.45 288.13 L468.17 288.39 L468.88 288.62 L469.6 288.82 L470.32 289 L471.03 289.15 L471.75 289.29 L472.47 289.41 L473.18 289.51 L473.9 289.6 Z" fill="#fde3e3"/><path d="M430.9 289.6 L431.62 289.51 L432.33 289.41 L433.05 289.29 L433.77 289.15 L434.48 289 L435.2 288.82 L435.92 288.62 L436.63 288.39 L437.35 288.13 L438.07 287.83 L438.78 287.48 L439.5 287.07 L440.22 286.58 L440.93 285.97 L441.65 285.22 L442.37 284.3 L443.08 283.15 L443.8 281.74 L444.52 280.04 L445.23 278.03 L445.95 275.71 L446.67 273.11 L447.38 270.3 L448.1 267.39 L448.82 264.51 L449.53 261.83 L450.25 259.51 L450.97 257.72 L451.68 256.59 L452.4 256.2 L453.12 256.59 L453.83 257.72 L454.55 259.51 L455.27 261.83 L455.98 264.51 L456.7 267.39 L457.42 270.3 L458.13 273.11 L458.85 275.71 L459.57 278.03 L460.28 280.04 L461 281.74 L461.72 283.15 L462.43 284.3 L463.15 285.22 L463.87 285.97 L464.58 286.58 L465.3 287.07 L466.02 287.48 L466.73 287.83 L467.45 288.13 L468.17 288.39 L468.88 288.62 L469.6 288.82 L470.32 289 L471.03 289.15 L471.75 289.29 L472.47 289.41 L473.18 289.51 L473.9 289.6" fill="none" stroke="#e0484c" stroke-width="1.6"/><path d="M361.7 309.4 L362.42 309.31 L363.13 309.21 L363.85 309.09 L364.57 308.95 L365.28 308.79 L366 308.61 L366.72 308.41 L367.43 308.18 L368.15 307.92 L368.87 307.61 L369.58 307.26 L370.3 306.84 L371.02 306.34 L371.73 305.73 L372.45 304.97 L373.17 304.03 L373.88 302.87 L374.6 301.45 L375.32 299.73 L376.03 297.69 L376.75 295.34 L377.47 292.71 L378.18 289.87 L378.9 286.92 L379.62 284.01 L380.33 281.29 L381.05 278.95 L381.77 277.14 L382.48 275.99 L383.2 275.6 L383.92 275.99 L384.63 277.14 L385.35 278.95 L386.07 281.29 L386.78 284.01 L387.5 286.92 L388.22 289.87 L388.93 292.71 L389.65 295.34 L390.37 297.69 L391.08 299.73 L391.8 301.45 L392.52 302.87 L393.23 304.03 L393.95 304.97 L394.67 305.73 L395.38 306.34 L396.1 306.84 L396.82 307.26 L397.53 307.61 L398.25 307.92 L398.97 308.18 L399.68 308.41 L400.4 308.61 L401.12 308.79 L401.83 308.95 L402.55 309.09 L403.27 309.21 L403.98 309.31 L404.7 309.4 Z" fill="#fde3e3"/><path d="M361.7 309.4 L362.42 309.31 L363.13 309.21 L363.85 309.09 L364.57 308.95 L365.28 308.79 L366 308.61 L366.72 308.41 L367.43 308.18 L368.15 307.92 L368.87 307.61 L369.58 307.26 L370.3 306.84 L371.02 306.34 L371.73 305.73 L372.45 304.97 L373.17 304.03 L373.88 302.87 L374.6 301.45 L375.32 299.73 L376.03 297.69 L376.75 295.34 L377.47 292.71 L378.18 289.87 L378.9 286.92 L379.62 284.01 L380.33 281.29 L381.05 278.95 L381.77 277.14 L382.48 275.99 L383.2 275.6 L383.92 275.99 L384.63 277.14 L385.35 278.95 L386.07 281.29 L386.78 284.01 L387.5 286.92 L388.22 289.87 L388.93 292.71 L389.65 295.34 L390.37 297.69 L391.08 299.73 L391.8 301.45 L392.52 302.87 L393.23 304.03 L393.95 304.97 L394.67 305.73 L395.38 306.34 L396.1 306.84 L396.82 307.26 L397.53 307.61 L398.25 307.92 L398.97 308.18 L399.68 308.41 L400.4 308.61 L401.12 308.79 L401.83 308.95 L402.55 309.09 L403.27 309.21 L403.98 309.31 L404.7 309.4" fill="none" stroke="#e0484c" stroke-width="1.6"/><path d="M333.7 362.2 L334.52 362.14 L335.33 362.07 L336.15 361.98 L336.97 361.88 L337.78 361.76 L338.6 361.61 L339.42 361.44 L340.23 361.24 L341.05 361 L341.87 360.74 L342.68 360.42 L343.5 360.06 L344.32 359.63 L345.13 359.12 L345.95 358.49 L346.77 357.69 L347.58 356.69 L348.4 355.4 L349.22 353.76 L350.03 351.71 L350.85 349.2 L351.67 346.22 L352.48 342.82 L353.3 339.11 L354.12 335.28 L354.93 331.57 L355.75 328.27 L356.57 325.66 L357.38 323.98 L358.2 323.4 L359.02 323.98 L359.83 325.66 L360.65 328.27 L361.47 331.57 L362.28 335.28 L363.1 339.11 L363.92 342.82 L364.73 346.22 L365.55 349.2 L366.37 351.71 L367.18 353.76 L368 355.4 L368.82 356.69 L369.63 357.69 L370.45 358.49 L371.27 359.12 L372.08 359.63 L372.9 360.06 L373.72 360.42 L374.53 360.74 L375.35 361 L376.17 361.24 L376.98 361.44 L377.8 361.61 L378.62 361.76 L379.43 361.88 L380.25 361.98 L381.07 362.07 L381.88 362.14 L382.7 362.2 Z" fill="#fde3e3"/><path d="M333.7 362.2 L334.52 362.14 L335.33 362.07 L336.15 361.98 L336.97 361.88 L337.78 361.76 L338.6 361.61 L339.42 361.44 L340.23 361.24 L341.05 361 L341.87 360.74 L342.68 360.42 L343.5 360.06 L344.32 359.63 L345.13 359.12 L345.95 358.49 L346.77 357.69 L347.58 356.69 L348.4 355.4 L349.22 353.76 L350.03 351.71 L350.85 349.2 L351.67 346.22 L352.48 342.82 L353.3 339.11 L354.12 335.28 L354.93 331.57 L355.75 328.27 L356.57 325.66 L357.38 323.98 L358.2 323.4 L359.02 323.98 L359.83 325.66 L360.65 328.27 L361.47 331.57 L362.28 335.28 L363.1 339.11 L363.92 342.82 L364.73 346.22 L365.55 349.2 L366.37 351.71 L367.18 353.76 L368 355.4 L368.82 356.69 L369.63 357.69 L370.45 358.49 L371.27 359.12 L372.08 359.63 L372.9 360.06 L373.72 360.42 L374.53 360.74 L375.35 361 L376.17 361.24 L376.98 361.44 L377.8 361.61 L378.62 361.76 L379.43 361.88 L380.25 361.98 L381.07 362.07 L381.88 362.14 L382.7 362.2" fill="none" stroke="#e0484c" stroke-width="1.6"/><path d="M357.2 412 L358.02 411.94 L358.83 411.87 L359.65 411.79 L360.47 411.68 L361.28 411.56 L362.1 411.42 L362.92 411.25 L363.73 411.05 L364.55 410.82 L365.37 410.55 L366.18 410.25 L367 409.89 L367.82 409.47 L368.63 408.96 L369.45 408.33 L370.27 407.55 L371.08 406.56 L371.9 405.29 L372.72 403.67 L373.53 401.65 L374.35 399.17 L375.17 396.23 L375.98 392.87 L376.8 389.21 L377.62 385.43 L378.43 381.77 L379.25 378.51 L380.07 375.93 L380.88 374.27 L381.7 373.7 L382.52 374.27 L383.33 375.93 L384.15 378.51 L384.97 381.77 L385.78 385.43 L386.6 389.21 L387.42 392.87 L388.23 396.23 L389.05 399.17 L389.87 401.65 L390.68 403.67 L391.5 405.29 L392.32 406.56 L393.13 407.55 L393.95 408.33 L394.77 408.96 L395.58 409.47 L396.4 409.89 L397.22 410.25 L398.03 410.55 L398.85 410.82 L399.67 411.05 L400.48 411.25 L401.3 411.42 L402.12 411.56 L402.93 411.68 L403.75 411.79 L404.57 411.87 L405.38 411.94 L406.2 412 Z" fill="#fde3e3"/><path d="M357.2 412 L358.02 411.94 L358.83 411.87 L359.65 411.79 L360.47 411.68 L361.28 411.56 L362.1 411.42 L362.92 411.25 L363.73 411.05 L364.55 410.82 L365.37 410.55 L366.18 410.25 L367 409.89 L367.82 409.47 L368.63 408.96 L369.45 408.33 L370.27 407.55 L371.08 406.56 L371.9 405.29 L372.72 403.67 L373.53 401.65 L374.35 399.17 L375.17 396.23 L375.98 392.87 L376.8 389.21 L377.62 385.43 L378.43 381.77 L379.25 378.51 L380.07 375.93 L380.88 374.27 L381.7 373.7 L382.52 374.27 L383.33 375.93 L384.15 378.51 L384.97 381.77 L385.78 385.43 L386.6 389.21 L387.42 392.87 L388.23 396.23 L389.05 399.17 L389.87 401.65 L390.68 403.67 L391.5 405.29 L392.32 406.56 L393.13 407.55 L393.95 408.33 L394.77 408.96 L395.58 409.47 L396.4 409.89 L397.22 410.25 L398.03 410.55 L398.85 410.82 L399.67 411.05 L400.48 411.25 L401.3 411.42 L402.12 411.56 L402.93 411.68 L403.75 411.79 L404.57 411.87 L405.38 411.94 L406.2 412" fill="none" stroke="#e0484c" stroke-width="1.6"/><path d="M508 307.3 L508.72 307.21 L509.43 307.11 L510.15 306.99 L510.87 306.85 L511.58 306.69 L512.3 306.51 L513.02 306.31 L513.73 306.08 L514.45 305.82 L515.17 305.51 L515.88 305.16 L516.6 304.74 L517.32 304.24 L518.03 303.63 L518.75 302.87 L519.47 301.93 L520.18 300.77 L520.9 299.35 L521.62 297.63 L522.33 295.59 L523.05 293.24 L523.77 290.61 L524.48 287.77 L525.2 284.82 L525.92 281.91 L526.63 279.19 L527.35 276.85 L528.07 275.04 L528.78 273.89 L529.5 273.5 L530.22 273.89 L530.93 275.04 L531.65 276.85 L532.37 279.19 L533.08 281.91 L533.8 284.82 L534.52 287.77 L535.23 290.61 L535.95 293.24 L536.67 295.59 L537.38 297.63 L538.1 299.35 L538.82 300.77 L539.53 301.93 L540.25 302.87 L540.97 303.63 L541.68 304.24 L542.4 304.74 L543.12 305.16 L543.83 305.51 L544.55 305.82 L545.27 306.08 L545.98 306.31 L546.7 306.51 L547.42 306.69 L548.13 306.85 L548.85 306.99 L549.57 307.11 L550.28 307.21 L551 307.3 Z" fill="#fde3e3"/><path d="M508 307.3 L508.72 307.21 L509.43 307.11 L510.15 306.99 L510.87 306.85 L511.58 306.69 L512.3 306.51 L513.02 306.31 L513.73 306.08 L514.45 305.82 L515.17 305.51 L515.88 305.16 L516.6 304.74 L517.32 304.24 L518.03 303.63 L518.75 302.87 L519.47 301.93 L520.18 300.77 L520.9 299.35 L521.62 297.63 L522.33 295.59 L523.05 293.24 L523.77 290.61 L524.48 287.77 L525.2 284.82 L525.92 281.91 L526.63 279.19 L527.35 276.85 L528.07 275.04 L528.78 273.89 L529.5 273.5 L530.22 273.89 L530.93 275.04 L531.65 276.85 L532.37 279.19 L533.08 281.91 L533.8 284.82 L534.52 287.77 L535.23 290.61 L535.95 293.24 L536.67 295.59 L537.38 297.63 L538.1 299.35 L538.82 300.77 L539.53 301.93 L540.25 302.87 L540.97 303.63 L541.68 304.24 L542.4 304.74 L543.12 305.16 L543.83 305.51 L544.55 305.82 L545.27 306.08 L545.98 306.31 L546.7 306.51 L547.42 306.69 L548.13 306.85 L548.85 306.99 L549.57 307.11 L550.28 307.21 L551 307.3" fill="none" stroke="#e0484c" stroke-width="1.6"/><path d="M523 362.6 L523.82 362.54 L524.63 362.47 L525.45 362.38 L526.27 362.28 L527.08 362.16 L527.9 362.01 L528.72 361.84 L529.53 361.64 L530.35 361.4 L531.17 361.14 L531.98 360.82 L532.8 360.46 L533.62 360.03 L534.43 359.52 L535.25 358.89 L536.07 358.09 L536.88 357.09 L537.7 355.8 L538.52 354.16 L539.33 352.11 L540.15 349.6 L540.97 346.62 L541.78 343.22 L542.6 339.51 L543.42 335.68 L544.23 331.97 L545.05 328.67 L545.87 326.06 L546.68 324.38 L547.5 323.8 L548.32 324.38 L549.13 326.06 L549.95 328.67 L550.77 331.97 L551.58 335.68 L552.4 339.51 L553.22 343.22 L554.03 346.62 L554.85 349.6 L555.67 352.11 L556.48 354.16 L557.3 355.8 L558.12 357.09 L558.93 358.09 L559.75 358.89 L560.57 359.52 L561.38 360.03 L562.2 360.46 L563.02 360.82 L563.83 361.14 L564.65 361.4 L565.47 361.64 L566.28 361.84 L567.1 362.01 L567.92 362.16 L568.73 362.28 L569.55 362.38 L570.37 362.47 L571.18 362.54 L572 362.6 Z" fill="#fde3e3"/><path d="M523 362.6 L523.82 362.54 L524.63 362.47 L525.45 362.38 L526.27 362.28 L527.08 362.16 L527.9 362.01 L528.72 361.84 L529.53 361.64 L530.35 361.4 L531.17 361.14 L531.98 360.82 L532.8 360.46 L533.62 360.03 L534.43 359.52 L535.25 358.89 L536.07 358.09 L536.88 357.09 L537.7 355.8 L538.52 354.16 L539.33 352.11 L540.15 349.6 L540.97 346.62 L541.78 343.22 L542.6 339.51 L543.42 335.68 L544.23 331.97 L545.05 328.67 L545.87 326.06 L546.68 324.38 L547.5 323.8 L548.32 324.38 L549.13 326.06 L549.95 328.67 L550.77 331.97 L551.58 335.68 L552.4 339.51 L553.22 343.22 L554.03 346.62 L554.85 349.6 L555.67 352.11 L556.48 354.16 L557.3 355.8 L558.12 357.09 L558.93 358.09 L559.75 358.89 L560.57 359.52 L561.38 360.03 L562.2 360.46 L563.02 360.82 L563.83 361.14 L564.65 361.4 L565.47 361.64 L566.28 361.84 L567.1 362.01 L567.92 362.16 L568.73 362.28 L569.55 362.38 L570.37 362.47 L571.18 362.54 L572 362.6" fill="none" stroke="#e0484c" stroke-width="1.6"/><path d="M495.3 411.8 L496.12 411.74 L496.93 411.67 L497.75 411.58 L498.57 411.48 L499.38 411.35 L500.2 411.21 L501.02 411.03 L501.83 410.83 L502.65 410.6 L503.47 410.33 L504.28 410.02 L505.1 409.65 L505.92 409.22 L506.73 408.7 L507.55 408.07 L508.37 407.27 L509.18 406.26 L510 404.97 L510.82 403.32 L511.63 401.26 L512.45 398.73 L513.27 395.74 L514.08 392.32 L514.9 388.6 L515.72 384.74 L516.53 381.02 L517.35 377.7 L518.17 375.07 L518.98 373.38 L519.8 372.8 L520.62 373.38 L521.43 375.07 L522.25 377.7 L523.07 381.02 L523.88 384.74 L524.7 388.6 L525.52 392.32 L526.33 395.74 L527.15 398.73 L527.97 401.26 L528.78 403.32 L529.6 404.97 L530.42 406.26 L531.23 407.27 L532.05 408.07 L532.87 408.7 L533.68 409.22 L534.5 409.65 L535.32 410.02 L536.13 410.33 L536.95 410.6 L537.77 410.83 L538.58 411.03 L539.4 411.21 L540.22 411.35 L541.03 411.48 L541.85 411.58 L542.67 411.67 L543.48 411.74 L544.3 411.8 Z" fill="#fde3e3"/><path d="M495.3 411.8 L496.12 411.74 L496.93 411.67 L497.75 411.58 L498.57 411.48 L499.38 411.35 L500.2 411.21 L501.02 411.03 L501.83 410.83 L502.65 410.6 L503.47 410.33 L504.28 410.02 L505.1 409.65 L505.92 409.22 L506.73 408.7 L507.55 408.07 L508.37 407.27 L509.18 406.26 L510 404.97 L510.82 403.32 L511.63 401.26 L512.45 398.73 L513.27 395.74 L514.08 392.32 L514.9 388.6 L515.72 384.74 L516.53 381.02 L517.35 377.7 L518.17 375.07 L518.98 373.38 L519.8 372.8 L520.62 373.38 L521.43 375.07 L522.25 377.7 L523.07 381.02 L523.88 384.74 L524.7 388.6 L525.52 392.32 L526.33 395.74 L527.15 398.73 L527.97 401.26 L528.78 403.32 L529.6 404.97 L530.42 406.26 L531.23 407.27 L532.05 408.07 L532.87 408.7 L533.68 409.22 L534.5 409.65 L535.32 410.02 L536.13 410.33 L536.95 410.6 L537.77 410.83 L538.58 411.03 L539.4 411.21 L540.22 411.35 L541.03 411.48 L541.85 411.58 L542.67 411.67 L543.48 411.74 L544.3 411.8" fill="none" stroke="#e0484c" stroke-width="1.6"/><path d="M347.5 341Q354.21 313.33 368.84 297.13" fill="none" stroke="#2b5b98" stroke-width="2.9"/><path d="M373.3 292.2L370.64 302.6L363.22 295.9Z" fill="#2b5b98"/><path d="M390 283.3Q415.02 268.82 437.25 268.04" fill="none" stroke="#2b5b98" stroke-width="2.9"/><path d="M443.9 267.8L434.58 273.13L434.23 263.14Z" fill="#2b5b98"/><path d="M463.5 267.3Q493.36 268.16 512.9 280.71" fill="none" stroke="#2b5b98" stroke-width="2.9"/><path d="M518.5 284.3L507.8 283.37L513.21 274.96Z" fill="#2b5b98"/><path d="M545.2 310.9Q558.56 328.51 561.53 343.67" fill="none" stroke="#2b5b98" stroke-width="2.9"/><path d="M562.8 350.2L556.07 341.83L565.89 339.92Z" fill="#2b5b98"/><path d="M556.3 365.9Q547.85 385.5 536.53 394.86" fill="none" stroke="#2b5b98" stroke-width="2.9"/><path d="M531.4 399.1L535.54 389.19L541.91 396.9Z" fill="#2b5b98"/><path d="M492.2 421.4Q498.45 418.25 504.7 415.1" fill="none" stroke="#2b5b98" stroke-width="2.9"/><path d="M411.8 423.6Q404.1 420.7 401.64 419.77" fill="none" stroke="#2b5b98" stroke-width="2.9"/><path d="M396.4 417.8L405.65 415.94L402.12 425.3Z" fill="#2b5b98"/><path d="M372.4 392.8Q357.5 383.05 352.92 372.87" fill="none" stroke="#2b5b98" stroke-width="2.9"/><path d="M350.2 366.8L358.65 373.42L349.53 377.51Z" fill="#2b5b98"/><path d="M435.6 282.2Q415.87 293.99 399.83 297.05" fill="none" stroke="#d32a2c" stroke-width="2.3"/><path d="M393.3 298.3L401.69 291.61L403.57 301.43Z" fill="#d32a2c"/><path d="M511.9 299.1Q487.09 295.67 471.31 286.22" fill="none" stroke="#d32a2c" stroke-width="2.3"/><path d="M465.6 282.8L476.32 283.39L471.18 291.97Z" fill="#d32a2c"/><path d="M375.2 312.4Q371.45 324.25 369.5 330.43" fill="none" stroke="#d32a2c" stroke-width="2.3"/><path d="M367.7 336.1L365.5 326.49L375.03 329.5Z" fill="#d32a2c"/><path d="M367.5 364.9Q372.35 371.15 373.77 372.98" fill="none" stroke="#d32a2c" stroke-width="2.3"/><path d="M377.2 377.4L368.35 374.15L376.25 368.01Z" fill="#d32a2c"/><path d="M540.7 335.4Q532.55 323.15 528.08 316.44" fill="none" stroke="#d32a2c" stroke-width="2.3"/><path d="M524.4 310.9L533.83 316.04L525.5 321.58Z" fill="#d32a2c"/><path d="M525.1 378.7Q530.9 371.6 533.16 368.84" fill="none" stroke="#d32a2c" stroke-width="2.3"/><path d="M536.7 364.5L535.51 373.86L527.77 367.53Z" fill="#d32a2c"/><path d="M486 404.5Q497.75 397.8 503.72 394.39" fill="none" stroke="#d32a2c" stroke-width="2.3"/><path d="M509.5 391.1L503.72 400.15L498.77 391.46Z" fill="#d32a2c"/><path d="M392.6 393.8Q404.99 400.92 418.6 405.3" fill="none" stroke="#d32a2c" stroke-width="2.3"/><circle cx="432.1" cy="415.9" r="3.6" fill="#000"/><circle cx="451.7" cy="418.8" r="3.6" fill="#000"/><circle cx="469.8" cy="415" r="3.6" fill="#000"/><text x="508.4" y="328.2" font-size="18.5" font-style="italic" fill="#1e1e1e" stroke="#1e1e1e" stroke-width="0.5">v</text><text x="557.2" y="313.4" font-size="19" font-style="italic" font-weight="bold" fill="#1e1e1e">w</text></g>
<g transform="translate(641.2 0)"><rect x="358" y="252" width="122" height="61.4" rx="9" fill="none" stroke="#9163c8" stroke-width="2.1" stroke-dasharray="8.3 6.7" stroke-dashoffset="0"/><path d="M430.9 289.6 L431.62 289.51 L432.33 289.41 L433.05 289.29 L433.77 289.15 L434.48 289 L435.2 288.82 L435.92 288.62 L436.63 288.39 L437.35 288.13 L438.07 287.83 L438.78 287.48 L439.5 287.07 L440.22 286.58 L440.93 285.97 L441.65 285.22 L442.37 284.3 L443.08 283.15 L443.8 281.74 L444.52 280.04 L445.23 278.03 L445.95 275.71 L446.67 273.11 L447.38 270.3 L448.1 267.39 L448.82 264.51 L449.53 261.83 L450.25 259.51 L450.97 257.72 L451.68 256.59 L452.4 256.2 L453.12 256.59 L453.83 257.72 L454.55 259.51 L455.27 261.83 L455.98 264.51 L456.7 267.39 L457.42 270.3 L458.13 273.11 L458.85 275.71 L459.57 278.03 L460.28 280.04 L461 281.74 L461.72 283.15 L462.43 284.3 L463.15 285.22 L463.87 285.97 L464.58 286.58 L465.3 287.07 L466.02 287.48 L466.73 287.83 L467.45 288.13 L468.17 288.39 L468.88 288.62 L469.6 288.82 L470.32 289 L471.03 289.15 L471.75 289.29 L472.47 289.41 L473.18 289.51 L473.9 289.6 Z" fill="#fde3e3"/><path d="M430.9 289.6 L431.62 289.51 L432.33 289.41 L433.05 289.29 L433.77 289.15 L434.48 289 L435.2 288.82 L435.92 288.62 L436.63 288.39 L437.35 288.13 L438.07 287.83 L438.78 287.48 L439.5 287.07 L440.22 286.58 L440.93 285.97 L441.65 285.22 L442.37 284.3 L443.08 283.15 L443.8 281.74 L444.52 280.04 L445.23 278.03 L445.95 275.71 L446.67 273.11 L447.38 270.3 L448.1 267.39 L448.82 264.51 L449.53 261.83 L450.25 259.51 L450.97 257.72 L451.68 256.59 L452.4 256.2 L453.12 256.59 L453.83 257.72 L454.55 259.51 L455.27 261.83 L455.98 264.51 L456.7 267.39 L457.42 270.3 L458.13 273.11 L458.85 275.71 L459.57 278.03 L460.28 280.04 L461 281.74 L461.72 283.15 L462.43 284.3 L463.15 285.22 L463.87 285.97 L464.58 286.58 L465.3 287.07 L466.02 287.48 L466.73 287.83 L467.45 288.13 L468.17 288.39 L468.88 288.62 L469.6 288.82 L470.32 289 L471.03 289.15 L471.75 289.29 L472.47 289.41 L473.18 289.51 L473.9 289.6" fill="none" stroke="#e0484c" stroke-width="1.6"/><path d="M361.7 309.4 L362.42 309.31 L363.13 309.21 L363.85 309.09 L364.57 308.95 L365.28 308.79 L366 308.61 L366.72 308.41 L367.43 308.18 L368.15 307.92 L368.87 307.61 L369.58 307.26 L370.3 306.84 L371.02 306.34 L371.73 305.73 L372.45 304.97 L373.17 304.03 L373.88 302.87 L374.6 301.45 L375.32 299.73 L376.03 297.69 L376.75 295.34 L377.47 292.71 L378.18 289.87 L378.9 286.92 L379.62 284.01 L380.33 281.29 L381.05 278.95 L381.77 277.14 L382.48 275.99 L383.2 275.6 L383.92 275.99 L384.63 277.14 L385.35 278.95 L386.07 281.29 L386.78 284.01 L387.5 286.92 L388.22 289.87 L388.93 292.71 L389.65 295.34 L390.37 297.69 L391.08 299.73 L391.8 301.45 L392.52 302.87 L393.23 304.03 L393.95 304.97 L394.67 305.73 L395.38 306.34 L396.1 306.84 L396.82 307.26 L397.53 307.61 L398.25 307.92 L398.97 308.18 L399.68 308.41 L400.4 308.61 L401.12 308.79 L401.83 308.95 L402.55 309.09 L403.27 309.21 L403.98 309.31 L404.7 309.4 Z" fill="#fde3e3"/><path d="M361.7 309.4 L362.42 309.31 L363.13 309.21 L363.85 309.09 L364.57 308.95 L365.28 308.79 L366 308.61 L366.72 308.41 L367.43 308.18 L368.15 307.92 L368.87 307.61 L369.58 307.26 L370.3 306.84 L371.02 306.34 L371.73 305.73 L372.45 304.97 L373.17 304.03 L373.88 302.87 L374.6 301.45 L375.32 299.73 L376.03 297.69 L376.75 295.34 L377.47 292.71 L378.18 289.87 L378.9 286.92 L379.62 284.01 L380.33 281.29 L381.05 278.95 L381.77 277.14 L382.48 275.99 L383.2 275.6 L383.92 275.99 L384.63 277.14 L385.35 278.95 L386.07 281.29 L386.78 284.01 L387.5 286.92 L388.22 289.87 L388.93 292.71 L389.65 295.34 L390.37 297.69 L391.08 299.73 L391.8 301.45 L392.52 302.87 L393.23 304.03 L393.95 304.97 L394.67 305.73 L395.38 306.34 L396.1 306.84 L396.82 307.26 L397.53 307.61 L398.25 307.92 L398.97 308.18 L399.68 308.41 L400.4 308.61 L401.12 308.79 L401.83 308.95 L402.55 309.09 L403.27 309.21 L403.98 309.31 L404.7 309.4" fill="none" stroke="#e0484c" stroke-width="1.6"/><path d="M333.7 362.2 L334.52 362.14 L335.33 362.07 L336.15 361.98 L336.97 361.88 L337.78 361.76 L338.6 361.61 L339.42 361.44 L340.23 361.24 L341.05 361 L341.87 360.74 L342.68 360.42 L343.5 360.06 L344.32 359.63 L345.13 359.12 L345.95 358.49 L346.77 357.69 L347.58 356.69 L348.4 355.4 L349.22 353.76 L350.03 351.71 L350.85 349.2 L351.67 346.22 L352.48 342.82 L353.3 339.11 L354.12 335.28 L354.93 331.57 L355.75 328.27 L356.57 325.66 L357.38 323.98 L358.2 323.4 L359.02 323.98 L359.83 325.66 L360.65 328.27 L361.47 331.57 L362.28 335.28 L363.1 339.11 L363.92 342.82 L364.73 346.22 L365.55 349.2 L366.37 351.71 L367.18 353.76 L368 355.4 L368.82 356.69 L369.63 357.69 L370.45 358.49 L371.27 359.12 L372.08 359.63 L372.9 360.06 L373.72 360.42 L374.53 360.74 L375.35 361 L376.17 361.24 L376.98 361.44 L377.8 361.61 L378.62 361.76 L379.43 361.88 L380.25 361.98 L381.07 362.07 L381.88 362.14 L382.7 362.2 Z" fill="#fde3e3"/><path d="M333.7 362.2 L334.52 362.14 L335.33 362.07 L336.15 361.98 L336.97 361.88 L337.78 361.76 L338.6 361.61 L339.42 361.44 L340.23 361.24 L341.05 361 L341.87 360.74 L342.68 360.42 L343.5 360.06 L344.32 359.63 L345.13 359.12 L345.95 358.49 L346.77 357.69 L347.58 356.69 L348.4 355.4 L349.22 353.76 L350.03 351.71 L350.85 349.2 L351.67 346.22 L352.48 342.82 L353.3 339.11 L354.12 335.28 L354.93 331.57 L355.75 328.27 L356.57 325.66 L357.38 323.98 L358.2 323.4 L359.02 323.98 L359.83 325.66 L360.65 328.27 L361.47 331.57 L362.28 335.28 L363.1 339.11 L363.92 342.82 L364.73 346.22 L365.55 349.2 L366.37 351.71 L367.18 353.76 L368 355.4 L368.82 356.69 L369.63 357.69 L370.45 358.49 L371.27 359.12 L372.08 359.63 L372.9 360.06 L373.72 360.42 L374.53 360.74 L375.35 361 L376.17 361.24 L376.98 361.44 L377.8 361.61 L378.62 361.76 L379.43 361.88 L380.25 361.98 L381.07 362.07 L381.88 362.14 L382.7 362.2" fill="none" stroke="#e0484c" stroke-width="1.6"/><path d="M357.2 412 L358.02 411.94 L358.83 411.87 L359.65 411.79 L360.47 411.68 L361.28 411.56 L362.1 411.42 L362.92 411.25 L363.73 411.05 L364.55 410.82 L365.37 410.55 L366.18 410.25 L367 409.89 L367.82 409.47 L368.63 408.96 L369.45 408.33 L370.27 407.55 L371.08 406.56 L371.9 405.29 L372.72 403.67 L373.53 401.65 L374.35 399.17 L375.17 396.23 L375.98 392.87 L376.8 389.21 L377.62 385.43 L378.43 381.77 L379.25 378.51 L380.07 375.93 L380.88 374.27 L381.7 373.7 L382.52 374.27 L383.33 375.93 L384.15 378.51 L384.97 381.77 L385.78 385.43 L386.6 389.21 L387.42 392.87 L388.23 396.23 L389.05 399.17 L389.87 401.65 L390.68 403.67 L391.5 405.29 L392.32 406.56 L393.13 407.55 L393.95 408.33 L394.77 408.96 L395.58 409.47 L396.4 409.89 L397.22 410.25 L398.03 410.55 L398.85 410.82 L399.67 411.05 L400.48 411.25 L401.3 411.42 L402.12 411.56 L402.93 411.68 L403.75 411.79 L404.57 411.87 L405.38 411.94 L406.2 412 Z" fill="#fde3e3"/><path d="M357.2 412 L358.02 411.94 L358.83 411.87 L359.65 411.79 L360.47 411.68 L361.28 411.56 L362.1 411.42 L362.92 411.25 L363.73 411.05 L364.55 410.82 L365.37 410.55 L366.18 410.25 L367 409.89 L367.82 409.47 L368.63 408.96 L369.45 408.33 L370.27 407.55 L371.08 406.56 L371.9 405.29 L372.72 403.67 L373.53 401.65 L374.35 399.17 L375.17 396.23 L375.98 392.87 L376.8 389.21 L377.62 385.43 L378.43 381.77 L379.25 378.51 L380.07 375.93 L380.88 374.27 L381.7 373.7 L382.52 374.27 L383.33 375.93 L384.15 378.51 L384.97 381.77 L385.78 385.43 L386.6 389.21 L387.42 392.87 L388.23 396.23 L389.05 399.17 L389.87 401.65 L390.68 403.67 L391.5 405.29 L392.32 406.56 L393.13 407.55 L393.95 408.33 L394.77 408.96 L395.58 409.47 L396.4 409.89 L397.22 410.25 L398.03 410.55 L398.85 410.82 L399.67 411.05 L400.48 411.25 L401.3 411.42 L402.12 411.56 L402.93 411.68 L403.75 411.79 L404.57 411.87 L405.38 411.94 L406.2 412" fill="none" stroke="#e0484c" stroke-width="1.6"/><path d="M508 307.3 L508.72 307.21 L509.43 307.11 L510.15 306.99 L510.87 306.85 L511.58 306.69 L512.3 306.51 L513.02 306.31 L513.73 306.08 L514.45 305.82 L515.17 305.51 L515.88 305.16 L516.6 304.74 L517.32 304.24 L518.03 303.63 L518.75 302.87 L519.47 301.93 L520.18 300.77 L520.9 299.35 L521.62 297.63 L522.33 295.59 L523.05 293.24 L523.77 290.61 L524.48 287.77 L525.2 284.82 L525.92 281.91 L526.63 279.19 L527.35 276.85 L528.07 275.04 L528.78 273.89 L529.5 273.5 L530.22 273.89 L530.93 275.04 L531.65 276.85 L532.37 279.19 L533.08 281.91 L533.8 284.82 L534.52 287.77 L535.23 290.61 L535.95 293.24 L536.67 295.59 L537.38 297.63 L538.1 299.35 L538.82 300.77 L539.53 301.93 L540.25 302.87 L540.97 303.63 L541.68 304.24 L542.4 304.74 L543.12 305.16 L543.83 305.51 L544.55 305.82 L545.27 306.08 L545.98 306.31 L546.7 306.51 L547.42 306.69 L548.13 306.85 L548.85 306.99 L549.57 307.11 L550.28 307.21 L551 307.3 Z" fill="#fde3e3"/><path d="M508 307.3 L508.72 307.21 L509.43 307.11 L510.15 306.99 L510.87 306.85 L511.58 306.69 L512.3 306.51 L513.02 306.31 L513.73 306.08 L514.45 305.82 L515.17 305.51 L515.88 305.16 L516.6 304.74 L517.32 304.24 L518.03 303.63 L518.75 302.87 L519.47 301.93 L520.18 300.77 L520.9 299.35 L521.62 297.63 L522.33 295.59 L523.05 293.24 L523.77 290.61 L524.48 287.77 L525.2 284.82 L525.92 281.91 L526.63 279.19 L527.35 276.85 L528.07 275.04 L528.78 273.89 L529.5 273.5 L530.22 273.89 L530.93 275.04 L531.65 276.85 L532.37 279.19 L533.08 281.91 L533.8 284.82 L534.52 287.77 L535.23 290.61 L535.95 293.24 L536.67 295.59 L537.38 297.63 L538.1 299.35 L538.82 300.77 L539.53 301.93 L540.25 302.87 L540.97 303.63 L541.68 304.24 L542.4 304.74 L543.12 305.16 L543.83 305.51 L544.55 305.82 L545.27 306.08 L545.98 306.31 L546.7 306.51 L547.42 306.69 L548.13 306.85 L548.85 306.99 L549.57 307.11 L550.28 307.21 L551 307.3" fill="none" stroke="#e0484c" stroke-width="1.6"/><path d="M523 362.6 L523.82 362.54 L524.63 362.47 L525.45 362.38 L526.27 362.28 L527.08 362.16 L527.9 362.01 L528.72 361.84 L529.53 361.64 L530.35 361.4 L531.17 361.14 L531.98 360.82 L532.8 360.46 L533.62 360.03 L534.43 359.52 L535.25 358.89 L536.07 358.09 L536.88 357.09 L537.7 355.8 L538.52 354.16 L539.33 352.11 L540.15 349.6 L540.97 346.62 L541.78 343.22 L542.6 339.51 L543.42 335.68 L544.23 331.97 L545.05 328.67 L545.87 326.06 L546.68 324.38 L547.5 323.8 L548.32 324.38 L549.13 326.06 L549.95 328.67 L550.77 331.97 L551.58 335.68 L552.4 339.51 L553.22 343.22 L554.03 346.62 L554.85 349.6 L555.67 352.11 L556.48 354.16 L557.3 355.8 L558.12 357.09 L558.93 358.09 L559.75 358.89 L560.57 359.52 L561.38 360.03 L562.2 360.46 L563.02 360.82 L563.83 361.14 L564.65 361.4 L565.47 361.64 L566.28 361.84 L567.1 362.01 L567.92 362.16 L568.73 362.28 L569.55 362.38 L570.37 362.47 L571.18 362.54 L572 362.6 Z" fill="#fde3e3"/><path d="M523 362.6 L523.82 362.54 L524.63 362.47 L525.45 362.38 L526.27 362.28 L527.08 362.16 L527.9 362.01 L528.72 361.84 L529.53 361.64 L530.35 361.4 L531.17 361.14 L531.98 360.82 L532.8 360.46 L533.62 360.03 L534.43 359.52 L535.25 358.89 L536.07 358.09 L536.88 357.09 L537.7 355.8 L538.52 354.16 L539.33 352.11 L540.15 349.6 L540.97 346.62 L541.78 343.22 L542.6 339.51 L543.42 335.68 L544.23 331.97 L545.05 328.67 L545.87 326.06 L546.68 324.38 L547.5 323.8 L548.32 324.38 L549.13 326.06 L549.95 328.67 L550.77 331.97 L551.58 335.68 L552.4 339.51 L553.22 343.22 L554.03 346.62 L554.85 349.6 L555.67 352.11 L556.48 354.16 L557.3 355.8 L558.12 357.09 L558.93 358.09 L559.75 358.89 L560.57 359.52 L561.38 360.03 L562.2 360.46 L563.02 360.82 L563.83 361.14 L564.65 361.4 L565.47 361.64 L566.28 361.84 L567.1 362.01 L567.92 362.16 L568.73 362.28 L569.55 362.38 L570.37 362.47 L571.18 362.54 L572 362.6" fill="none" stroke="#e0484c" stroke-width="1.6"/><path d="M495.3 411.8 L496.12 411.74 L496.93 411.67 L497.75 411.58 L498.57 411.48 L499.38 411.35 L500.2 411.21 L501.02 411.03 L501.83 410.83 L502.65 410.6 L503.47 410.33 L504.28 410.02 L505.1 409.65 L505.92 409.22 L506.73 408.7 L507.55 408.07 L508.37 407.27 L509.18 406.26 L510 404.97 L510.82 403.32 L511.63 401.26 L512.45 398.73 L513.27 395.74 L514.08 392.32 L514.9 388.6 L515.72 384.74 L516.53 381.02 L517.35 377.7 L518.17 375.07 L518.98 373.38 L519.8 372.8 L520.62 373.38 L521.43 375.07 L522.25 377.7 L523.07 381.02 L523.88 384.74 L524.7 388.6 L525.52 392.32 L526.33 395.74 L527.15 398.73 L527.97 401.26 L528.78 403.32 L529.6 404.97 L530.42 406.26 L531.23 407.27 L532.05 408.07 L532.87 408.7 L533.68 409.22 L534.5 409.65 L535.32 410.02 L536.13 410.33 L536.95 410.6 L537.77 410.83 L538.58 411.03 L539.4 411.21 L540.22 411.35 L541.03 411.48 L541.85 411.58 L542.67 411.67 L543.48 411.74 L544.3 411.8 Z" fill="#fde3e3"/><path d="M495.3 411.8 L496.12 411.74 L496.93 411.67 L497.75 411.58 L498.57 411.48 L499.38 411.35 L500.2 411.21 L501.02 411.03 L501.83 410.83 L502.65 410.6 L503.47 410.33 L504.28 410.02 L505.1 409.65 L505.92 409.22 L506.73 408.7 L507.55 408.07 L508.37 407.27 L509.18 406.26 L510 404.97 L510.82 403.32 L511.63 401.26 L512.45 398.73 L513.27 395.74 L514.08 392.32 L514.9 388.6 L515.72 384.74 L516.53 381.02 L517.35 377.7 L518.17 375.07 L518.98 373.38 L519.8 372.8 L520.62 373.38 L521.43 375.07 L522.25 377.7 L523.07 381.02 L523.88 384.74 L524.7 388.6 L525.52 392.32 L526.33 395.74 L527.15 398.73 L527.97 401.26 L528.78 403.32 L529.6 404.97 L530.42 406.26 L531.23 407.27 L532.05 408.07 L532.87 408.7 L533.68 409.22 L534.5 409.65 L535.32 410.02 L536.13 410.33 L536.95 410.6 L537.77 410.83 L538.58 411.03 L539.4 411.21 L540.22 411.35 L541.03 411.48 L541.85 411.58 L542.67 411.67 L543.48 411.74 L544.3 411.8" fill="none" stroke="#e0484c" stroke-width="1.6"/><path d="M347.5 341Q354.21 313.33 368.84 297.13" fill="none" stroke="#2b5b98" stroke-width="2.9"/><path d="M373.3 292.2L370.64 302.6L363.22 295.9Z" fill="#2b5b98"/><path d="M390 283.3Q415.02 268.82 437.25 268.04" fill="none" stroke="#dfe6ef" stroke-width="2.9"/><path d="M443.9 267.8L434.58 273.13L434.23 263.14Z" fill="#dfe6ef"/><path d="M463.5 267.3Q493.36 268.16 512.9 280.71" fill="none" stroke="#2b5b98" stroke-width="2.9"/><path d="M518.5 284.3L507.8 283.37L513.21 274.96Z" fill="#2b5b98"/><path d="M545.2 310.9Q558.56 328.51 561.53 343.67" fill="none" stroke="#2b5b98" stroke-width="2.9"/><path d="M562.8 350.2L556.07 341.83L565.89 339.92Z" fill="#2b5b98"/><path d="M556.3 365.9Q547.85 385.5 536.53 394.86" fill="none" stroke="#2b5b98" stroke-width="2.9"/><path d="M531.4 399.1L535.54 389.19L541.91 396.9Z" fill="#2b5b98"/><path d="M492.2 421.4Q498.45 418.25 504.7 415.1" fill="none" stroke="#2b5b98" stroke-width="2.9"/><path d="M411.8 423.6Q404.1 420.7 401.64 419.77" fill="none" stroke="#2b5b98" stroke-width="2.9"/><path d="M396.4 417.8L405.65 415.94L402.12 425.3Z" fill="#2b5b98"/><path d="M372.4 392.8Q357.5 383.05 352.92 372.87" fill="none" stroke="#2b5b98" stroke-width="2.9"/><path d="M350.2 366.8L358.65 373.42L349.53 377.51Z" fill="#2b5b98"/><path d="M435.6 282.2Q415.87 293.99 399.83 297.05" fill="none" stroke="#f7dcdc" stroke-width="2.3"/><path d="M393.3 298.3L401.69 291.61L403.57 301.43Z" fill="#f7dcdc"/><path d="M511.9 299.1Q487.09 295.67 471.31 286.22" fill="none" stroke="#d32a2c" stroke-width="2.3"/><path d="M465.6 282.8L476.32 283.39L471.18 291.97Z" fill="#d32a2c"/><path d="M375.2 312.4Q371.45 324.25 369.5 330.43" fill="none" stroke="#d32a2c" stroke-width="2.3"/><path d="M367.7 336.1L365.5 326.49L375.03 329.5Z" fill="#d32a2c"/><path d="M367.5 364.9Q372.35 371.15 373.77 372.98" fill="none" stroke="#d32a2c" stroke-width="2.3"/><path d="M377.2 377.4L368.35 374.15L376.25 368.01Z" fill="#d32a2c"/><path d="M540.7 335.4Q532.55 323.15 528.08 316.44" fill="none" stroke="#d32a2c" stroke-width="2.3"/><path d="M524.4 310.9L533.83 316.04L525.5 321.58Z" fill="#d32a2c"/><path d="M525.1 378.7Q530.9 371.6 533.16 368.84" fill="none" stroke="#d32a2c" stroke-width="2.3"/><path d="M536.7 364.5L535.51 373.86L527.77 367.53Z" fill="#d32a2c"/><path d="M486 404.5Q497.75 397.8 503.72 394.39" fill="none" stroke="#d32a2c" stroke-width="2.3"/><path d="M509.5 391.1L503.72 400.15L498.77 391.46Z" fill="#d32a2c"/><path d="M392.6 393.8Q404.99 400.92 418.6 405.3" fill="none" stroke="#d32a2c" stroke-width="2.3"/><circle cx="432.1" cy="415.9" r="3.6" fill="#000"/><circle cx="451.7" cy="418.8" r="3.6" fill="#000"/><circle cx="469.8" cy="415" r="3.6" fill="#000"/><text x="508.4" y="328.2" font-size="18.5" font-style="italic" fill="#1e1e1e" stroke="#1e1e1e" stroke-width="0.5">v</text></g>
</g>
</svg>
</body></html>
